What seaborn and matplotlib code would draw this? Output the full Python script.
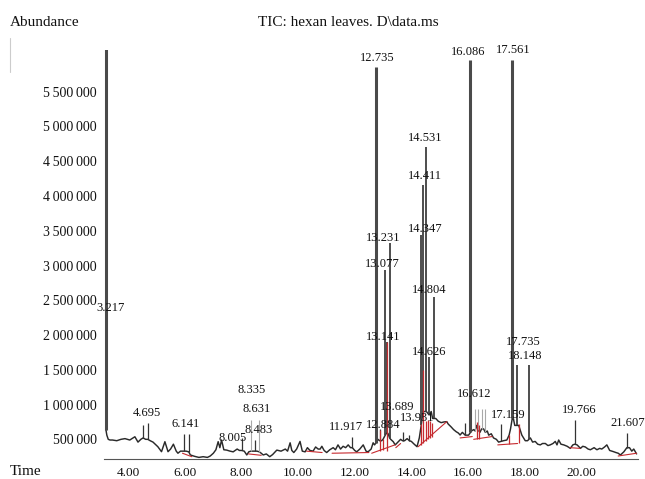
import numpy as np
import matplotlib
matplotlib.use("Agg")
import matplotlib.pyplot as plt
from matplotlib.ticker import MultipleLocator, FuncFormatter
from matplotlib.lines import Line2D
import seaborn as sns

# ---------------- data (abundance in thousands) ----------------
baseline_rt = [3.217, 3.25, 3.30, 3.36, 3.45, 3.60, 3.75, 3.89, 4.06, 4.24, 4.35, 4.45, 4.53, 4.62,
               4.695, 4.78, 4.88, 5.05, 5.18, 5.30, 5.41, 5.50, 5.60, 5.70, 5.76, 5.85, 5.98, 6.05,
               6.141, 6.20, 6.35, 6.50, 6.65, 6.80, 6.90, 7.01, 7.10, 7.18, 7.24, 7.30, 7.38, 7.48,
               7.60, 7.71, 7.85, 7.93, 8.005, 8.10, 8.19, 8.26, 8.335, 8.40, 8.483, 8.55, 8.631, 8.70,
               8.77, 8.88, 9.00, 9.10, 9.25, 9.40, 9.55, 9.63, 9.72, 9.78, 9.85, 9.95, 10.07, 10.15,
               10.25, 10.33, 10.42, 10.53, 10.62, 10.71, 10.78, 10.84, 10.92, 11.01, 11.12, 11.24,
               11.32, 11.41, 11.50, 11.59, 11.68, 11.77, 11.85, 11.917, 12.00, 12.07, 12.18, 12.30,
               12.40, 12.47, 12.58, 12.65, 12.70, 12.735, 12.78, 12.82, 12.884, 12.95, 13.00, 13.077,
               13.141, 13.18, 13.231, 13.27, 13.36, 13.43, 13.50, 13.55, 13.62, 13.689, 13.76, 13.85,
               13.931, 14.00, 14.10, 14.20, 14.28, 14.347, 14.411, 14.531, 14.626, 14.70, 14.75,
               14.804, 14.86, 14.95, 15.05, 15.15, 15.25, 15.30, 15.40, 15.49, 15.58, 15.66, 15.72,
               15.80, 15.90, 15.96, 16.02, 16.086, 16.12, 16.20, 16.25, 16.30, 16.35, 16.42, 16.48,
               16.55, 16.612, 16.68, 16.73, 16.82, 16.90, 17.00, 17.08, 17.159, 17.25, 17.37, 17.45,
               17.50, 17.561, 17.60, 17.65, 17.735, 17.79, 17.90, 18.02, 18.10, 18.148, 18.20, 18.28,
               18.37, 18.46, 18.55, 18.63, 18.73, 18.82, 18.90, 19.00, 19.08, 19.14, 19.20, 19.28,
               19.38, 19.50, 19.61, 19.70, 19.766, 19.85, 19.97, 20.05, 20.14, 20.24, 20.32, 20.45,
               20.55, 20.65, 20.72, 20.82, 20.90, 21.00, 21.14, 21.22, 21.30, 21.38, 21.50, 21.607,
               21.70, 21.78, 21.85, 21.95]
baseline_ab = [640, 560, 500, 490, 490, 480, 500, 510, 490, 537, 460, 500, 520, 500,
               500, 480, 460, 394, 322, 466, 322, 360, 430, 330, 300, 330, 330, 330,
               320, 275, 255, 240, 250, 240, 260, 300, 350, 466, 380, 490, 350, 345,
               330, 320, 360, 340, 340, 330, 275, 320, 330, 330, 330, 330, 320, 300,
               275, 290, 250, 280, 345, 330, 360, 330, 450, 340, 310, 360, 470, 330,
               320, 380, 340, 330, 390, 360, 360, 400, 340, 310, 350, 380,
               350, 420, 360, 400, 380, 420, 380, 380, 340, 320, 360, 420,
               330, 320, 360, 450, 420, 440, 460, 500, 480, 480, 500, 560,
               600, 580, 520, 500, 466, 420, 450, 470, 500, 480, 480, 510,
               480, 470, 430, 394, 520, 700, 900, 900, 850, 900, 800,
               800, 800, 760, 740, 750, 754, 720, 680, 640, 610, 590, 562,
               600, 560, 560, 560, 600, 620, 640, 620, 700, 640, 600, 650,
               650, 600, 620, 560, 580, 520, 500, 460, 470, 480, 490, 560,
               650, 800, 800, 700, 700, 700, 560, 480, 480, 500, 520, 460,
               470, 430, 420, 440, 440, 410, 420, 440, 470, 420, 490, 430,
               420, 400, 370, 420, 430, 420, 370, 400, 390, 360, 350, 380,
               350, 370, 360, 390, 420, 340, 322, 310, 300, 275, 320, 380,
               380, 330, 360, 290]

peak_rt = [3.217, 4.53, 4.695, 5.98, 6.141, 8.005, 8.335, 8.483, 8.631, 11.917,
           12.735, 12.884, 13.077, 13.141, 13.231, 13.689, 13.931,
           14.347, 14.411, 14.531, 14.626, 14.804, 15.90, 16.086,
           16.25, 16.35, 16.48, 16.612, 17.159, 17.561, 17.735, 18.148, 19.766, 21.607]
peak_top = [6300, 706, 735, 580, 580, 520, 780, 490, 780, 530,
            5860, 650, 2940, 1900, 3320, 600, 560,
            3440, 4160, 4710, 1690, 2550, 730, 5960,
            930, 930, 930, 930, 720, 5960, 1570, 1570, 780, 590]
peak_foot = [640, 520, 500, 330, 320, 340, 330, 330, 320, 380,
             440, 480, 560, 600, 520, 480, 480,
             700, 900, 900, 850, 800, 560, 600,
             620, 640, 650, 600, 470, 800, 700, 500, 430, 380]

peak_labels = ["3.217", "4.695", "6.141", "8.005", "8.335", "8.631", "8.483", "11.917",
               "12.735", "12.884", "13.077", "13.141", "13.231", "13.689", "13.931",
               "14.347", "14.411", "14.531", "14.626", "14.804", "16.086", "16.612",
               "17.159", "17.561", "17.735", "18.148", "19.766", "21.607"]

# integration baselines (red) and drop lines
red_base_t0 = [5.92, 8.25, 10.30, 11.20, 12.60, 13.45, 14.24, 15.72, 16.20, 17.05, 19.60, 21.30]
red_base_v0 = [300, 290, 330, 300, 300, 380, 394, 520, 500, 420, 380, 260]
red_base_t1 = [6.25, 8.70, 10.85, 12.50, 13.42, 13.62, 15.25, 16.15, 16.85, 17.75, 19.95, 21.95]
red_base_v1 = [250, 270, 310, 310, 420, 440, 754, 540, 540, 440, 370, 300]
red_drop_t = [12.884, 13.00, 13.141, 14.35, 14.42, 14.50, 14.58, 14.66, 14.74, 16.30, 16.38, 17.45, 17.79]
red_drop_lo = [330, 350, 330, 420, 440, 470, 500, 520, 540, 500, 510, 430, 440]
red_drop_hi = [640, 500, 1900, 720, 1500, 760, 780, 760, 740, 750, 700, 560, 720]

x_ticks = [4, 6, 8, 10, 12, 14, 16, 18, 20]
y_ticks = [500000, 1000000, 1500000, 2000000, 2500000, 3000000, 3500000,
           4000000, 4500000, 5000000, 5500000]

# ---------------- layout / style ----------------
label_x = [3.38, 4.655, 6.04, 7.69, 8.37, 8.54, 8.60, 11.69,
           12.79, 13.02, 12.99, 13.02, 12.99, 13.49, 14.19,
           14.50, 14.49, 14.49, 14.62, 14.62, 16.01, 16.20,
           17.43, 17.60, 17.96, 18.02, 19.91, 21.63]
label_y = [2389, 874, 716, 514, 1210, 936, 634, 673,
           5980, 706, 3020, 1976, 3390, 969, 802,
           3520, 4290, 4830, 1760, 2650, 6075, 1152,
           850, 6100, 1904, 1700, 922, 730]
faint_peaks = [8.335, 8.631, 16.25, 16.35, 16.48, 16.612]

# ---------------- drawing ----------------
sns.set_theme(style="white")
plt.rcParams["font.family"] = ["Liberation Serif", "DejaVu Serif"]

fig = plt.figure(figsize=(6.45, 4.79), dpi=100)
ax = fig.add_axes([104 / 645, 20 / 479, 534 / 645, 409 / 479])

K = 1000.0
sns.lineplot(x=np.array(baseline_rt), y=np.array(baseline_ab) * K, ax=ax,
             color="#2a2a2a", linewidth=1.05, estimator=None, sort=False)

tops = np.array(peak_top) * K
feet = np.array(peak_foot) * K
widths, cols = [], []
for rt, t in zip(peak_rt, tops):
    if rt in faint_peaks:
        widths.append(0.8)
        cols.append("#a8a8a8")
    elif t > 5e6:
        widths.append(2.2)
        cols.append("#4a4a4a")
    elif t > 1.4e6:
        widths.append(1.3)
        cols.append("#3f3f3f")
    else:
        widths.append(0.9)
        cols.append("#333333")
ax.vlines(peak_rt, feet, tops, colors=cols, linewidths=widths)

red = "#c62a2f"
for t0, v0, t1, v1 in zip(red_base_t0, red_base_v0, red_base_t1, red_base_v1):
    ax.plot([t0, t1], [v0 * K, v1 * K], color=red, linewidth=0.8)
ax.vlines(red_drop_t, np.array(red_drop_lo) * K, np.array(red_drop_hi) * K,
          colors=red, linewidths=0.9)

for txt, lx, ly in zip(peak_labels, label_x, label_y):
    ax.text(lx, ly * K, txt, ha="center", va="center", fontsize=9, color="#111111",
            clip_on=False)

ax.set_xlim(3.15, 22.0)
ax.set_ylim(217000, 6100000)
ax.set_xticks(x_ticks)
ax.xaxis.set_major_formatter(FuncFormatter(lambda v, p: f"{v:.2f}"))
ax.xaxis.set_minor_locator(MultipleLocator(0.2))
ax.set_yticks(y_ticks)
ax.yaxis.set_major_formatter(FuncFormatter(lambda v, p: f"{int(v):,}".replace(",", "\u2009")))
ax.tick_params(axis="y", length=0, pad=5, labelsize=10, colors="#111111")
ax.tick_params(axis="x", which="major", direction="out", length=4, width=0.8,
               color="#555555", pad=2, labelsize=9.5, labelcolor="#111111")
ax.tick_params(axis="x", which="minor", direction="out", length=2, width=0.6, color="#666666")
for s in ["top", "right", "left"]:
    ax.spines[s].set_visible(False)
ax.spines["bottom"].set_color("#555555")
ax.spines["bottom"].set_linewidth(0.8)
ax.set_xlabel("")
ax.set_ylabel("")

fig.text(10 / 645, 1 - 22 / 479, "Abundance", ha="left", va="center", fontsize=11, color="#111111")
fig.text(258 / 645, 1 - 22 / 479, "TIC: hexan leaves. D\\data.ms", ha="left", va="center",
         fontsize=11, color="#111111")
fig.text(10 / 645, 1 - 478 / 479, "Time", ha="left", va="bottom", fontsize=11, color="#111111")
fig.add_artist(Line2D([10 / 645, 10 / 645], [1 - 38 / 479, 1 - 72 / 479],
                      color="#cccccc", linewidth=0.8))

fig.savefig("out.png", dpi=100)
